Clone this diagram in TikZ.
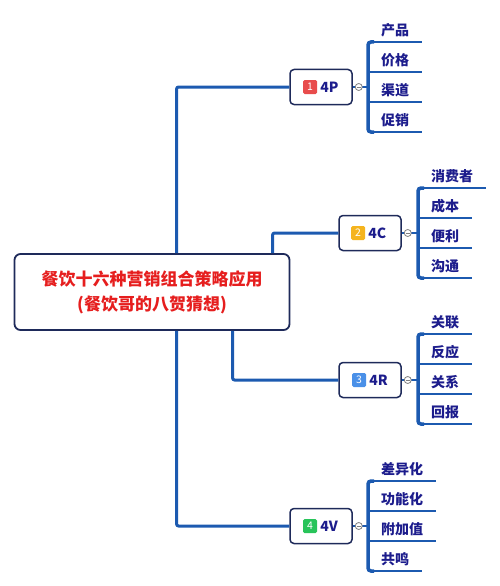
\documentclass[tikz,border=0pt]{standalone}
\usepackage{fontspec}
\setmainfont{Noto Sans CJK SC}
\usetikzlibrary{positioning}
\definecolor{linkblue}{RGB}{28,90,176}
\definecolor{boxnavy}{RGB}{30,42,90}
\definecolor{textnavy}{RGB}{28,28,140}
\definecolor{rootred}{RGB}{230,30,30}
\definecolor{badgered}{RGB}{232,76,76}
\definecolor{badgeorange}{RGB}{245,180,30}
\definecolor{badgeblue}{RGB}{74,144,232}
\definecolor{badgegreen}{RGB}{40,196,90}
\tikzset{
  rootbox/.style={draw=boxnavy, line width=1.8, rounded corners=6, fill=white,
    minimum width=275, minimum height=76, align=center, text=rootred,
    font=\fontsize{17}{25}\selectfont\bfseries},
  topicbox/.style={draw=boxnavy, line width=1.5, rounded corners=4, fill=white,
    minimum width=62, minimum height=35},
  badge/.style={fill=#1, rounded corners=1.5, minimum size=14, inner sep=0,
    text=white, font=\fontsize{10.5}{10.5}\selectfont},
  topiclabel/.style={inner sep=0, text=textnavy, font=\fontsize{14}{14}\selectfont\bfseries},
  leaf/.style={anchor=south west, inner xsep=13, inner ysep=5, text=textnavy,
    font=\fontsize{14}{14}\selectfont\bfseries},
  branch/.style={draw=linkblue, line width=3, rounded corners=2},
  bracket/.style={draw=linkblue, line width=3.5, rounded corners=3},
  underline/.style={draw=linkblue, line width=2},
  toggle/.style={circle, draw=gray, fill=white, line width=0.8, minimum size=7, inner sep=0,
    path picture={\draw[gray, line width=0.6] ([xshift=-2]path picture bounding box.center)
      -- ([xshift=2]path picture bounding box.center);}},
}
\begin{document}
\begin{tikzpicture}[x=1pt,y=-1pt]
  \useasboundingbox (0,0) rectangle (500,586);
  % central topic
  \node[rootbox] (root) at (152,292) {餐饮十六种营销组合策略应用\\(餐饮哥的八贺猜想)};
  % main topics
  \node[topicbox] (p) at (321,87) {};
  \node[topicbox] (c) at (370,233) {};
  \node[topicbox] (r) at (370,380) {};
  \node[topicbox] (v) at (321,526) {};
  \node[badge=badgered] (pb) at ([xshift=-11]p.center) {1};
  \node[topiclabel, right=3 of pb] {4P};
  \node[badge=badgeorange] (cb) at ([xshift=-12]c.center) {2};
  \node[topiclabel, right=3 of cb] {4C};
  \node[badge=badgeblue] (rb) at ([xshift=-11]r.center) {3};
  \node[topiclabel, right=3 of rb] {4R};
  \node[badge=badgegreen] (vb) at ([xshift=-11]v.center) {4};
  \node[topiclabel, right=3 of vb] {4V};
  % branches from the centre
  \draw[branch] ([xshift=163]root.north west) |- (p.west);
  \draw[branch] ([xshift=259]root.north west) |- (c.west);
  \draw[branch] ([xshift=219]root.south west) |- (r.west);
  \draw[branch] ([xshift=163]root.south west) |- (v.west);
  % subtopics
  \foreach \txt [count=\i] in {产品,价格,渠道,促销}
    \node[leaf] (p\i) at (368,12+30*\i) {\txt};
  \foreach \txt [count=\i] in {消费者,成本,便利,沟通}
    \node[leaf] (c\i) at (418,158+30*\i) {\txt};
  \foreach \txt [count=\i] in {关联,反应,关系,回报}
    \node[leaf] (r\i) at (418,304+30*\i) {\txt};
  \foreach \txt [count=\i] in {差异化,功能化,附加值,共鸣}
    \node[leaf] (v\i) at (368,451+30*\i) {\txt};
  \foreach \t in {p,c,r,v} {
    \foreach \i in {1,...,4}
      \draw[underline] (\t\i.south west) -- (\t\i.south east);
    \draw[bracket] ([xshift=6]\t1.south west) -- (\t1.south west)
      -- (\t4.south west) -- ([xshift=6]\t4.south west);
    \draw[underline] (\t.east) -- (\t.east -| \t1.west);
    \node[toggle] at ([xshift=6]\t.east) {};
  }
\end{tikzpicture}
\end{document}
